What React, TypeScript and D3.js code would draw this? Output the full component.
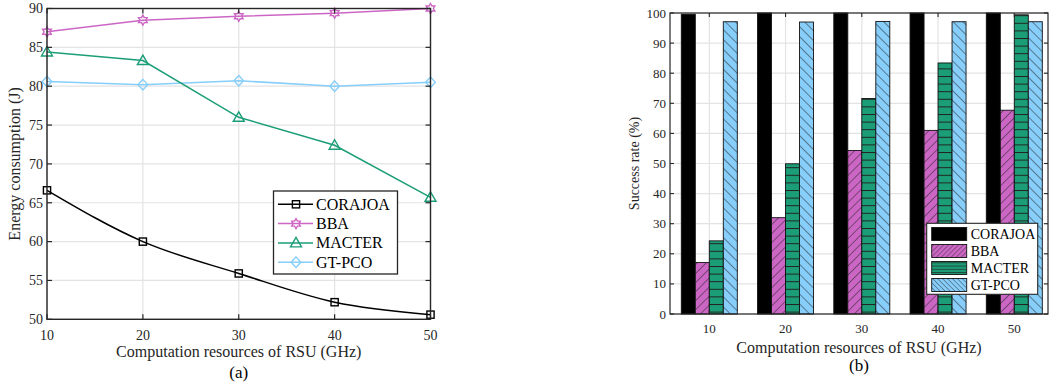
import React from "react";
import * as d3 from "d3";

const xValues = [10, 20, 30, 40, 50];
const seriesNames = ["CORAJOA", "BBA", "MACTER", "GT-PCO"];

// (a) energy consumption (J)
const energyCORAJOA = [66.6, 60.0, 55.9, 52.2, 50.6];
const energyBBA = [87.0, 88.5, 89.0, 89.4, 90.0];
const energyMACTER = [84.4, 83.3, 76.0, 72.4, 65.7];
const energyGTPCO = [80.6, 80.2, 80.7, 80.0, 80.5];

// (b) success rate (%)
const successCORAJOA = [99.6, 100, 100, 100, 100];
const successBBA = [17.1, 32.0, 54.3, 61.0, 67.7];
const successMACTER = [24.3, 49.9, 71.6, 83.4, 99.4];
const successGTPCO = [97.1, 97.0, 97.2, 97.1, 97.1];

const energyTicks = [50, 55, 60, 65, 70, 75, 80, 85, 90];
const successTicks = [0, 10, 20, 30, 40, 50, 60, 70, 80, 90, 100];

const FONT = "'Liberation Serif', 'Times New Roman', serif";
const AX = "#262626";
const GRID = "#e3e3e3";
const C_BLACK = "#000000";
const C_BBA = "#cc66c4";
const C_MAC = "#1b9e77";
const C_GT = "#87cefa";

function hexagram(r: number) {
  const pts: [number, number][] = [];
  for (let k = 0; k < 12; k++) {
    const a = (-90 + k * 30) * Math.PI / 180;
    const rr = k % 2 === 0 ? r : r / Math.sqrt(3);
    pts.push([rr * Math.cos(a), rr * Math.sin(a)]);
  }
  return "M" + pts.map(p => p[0].toFixed(2) + "," + p[1].toFixed(2)).join("L") + "Z";
}

function Marker({ kind, x, y, color }: { kind: number; x: number; y: number; color: string }) {
  const sw = 1.4;
  if (kind === 0) return <rect x={x - 3.6} y={y - 3.6} width={7.2} height={7.2} fill="none" stroke={color} strokeWidth={sw} />;
  if (kind === 1) return <path d={hexagram(5)} transform={`translate(${x},${y})`} fill="none" stroke={color} strokeWidth={sw} />;
  if (kind === 2) return <path d={`M${x},${y - 5.5}L${x + 5.5},${y + 4}L${x - 5.5},${y + 4}Z`} fill="none" stroke={color} strokeWidth={sw} />;
  return <path d={`M${x},${y - 5.3}L${x + 4.8},${y}L${x},${y + 5.3}L${x - 4.8},${y}Z`} fill="none" stroke={color} strokeWidth={sw} />;
}

function LeftChart() {
  const L = 47, R = 430.5, T = 8.5, B = 319.3;
  const x = d3.scaleLinear().domain([10, 50]).range([L, R]);
  const y = d3.scaleLinear().domain([50, 90]).range([B, T]);
  const data = [energyCORAJOA, energyBBA, energyMACTER, energyGTPCO];
  const colors = [C_BLACK, C_BBA, C_MAC, C_GT];
  const straight = d3.line<number>().x((_, i) => x(xValues[i])).y(d => y(d));
  const curved = d3.line<number>().x((_, i) => x(xValues[i])).y(d => y(d)).curve(d3.curveMonotoneX);
  const order = [3, 2, 1, 0];
  const tk = 5;
  return (
    <g>
      {xValues.map(v => <line key={"gx" + v} x1={x(v)} x2={x(v)} y1={T} y2={B} stroke={GRID} strokeWidth={1.2} />)}
      {energyTicks.map(v => <line key={"gy" + v} x1={L} x2={R} y1={y(v)} y2={y(v)} stroke={GRID} strokeWidth={1.2} />)}
      {order.map(s => (
        <g key={"s" + s}>
          <path d={(s === 0 ? curved : straight)(data[s]) || ""} fill="none" stroke={colors[s]} strokeWidth={1.5} />
          {data[s].map((v, i) => <Marker key={i} kind={s} x={x(xValues[i])} y={y(v)} color={colors[s]} />)}
        </g>
      ))}
      <rect x={L} y={T} width={R - L} height={B - T} fill="none" stroke={AX} strokeWidth={1.4} />
      {xValues.map(v => (
        <g key={"tx" + v}>
          <line x1={x(v)} x2={x(v)} y1={B} y2={B - tk} stroke={AX} strokeWidth={1.2} />
          <line x1={x(v)} x2={x(v)} y1={T} y2={T + tk} stroke={AX} strokeWidth={1.2} />
          <text x={x(v)} y={340} textAnchor="middle" fontSize={14} fontFamily={FONT} fill={AX}>{v}</text>
        </g>
      ))}
      {energyTicks.map(v => (
        <g key={"ty" + v}>
          <line x1={L} x2={L + tk} y1={y(v)} y2={y(v)} stroke={AX} strokeWidth={1.2} />
          <line x1={R} x2={R - tk} y1={y(v)} y2={y(v)} stroke={AX} strokeWidth={1.2} />
          <text x={43} y={y(v) + 4.8} textAnchor="end" fontSize={14} fontFamily={FONT} fill={AX}>{v}</text>
        </g>
      ))}
      <text x={(L + R) / 2} y={357} textAnchor="middle" fontSize={16} fontFamily={FONT} fill={AX}>Computation resources of RSU (GHz)</text>
      <text x={(L + R) / 2} y={378} textAnchor="middle" fontSize={17} fontFamily={FONT} fill="#000">(a)</text>
      <text transform={`translate(20,${(T + B) / 2}) rotate(-90)`} textAnchor="middle" fontSize={16} fontFamily={FONT} fill={AX}>Energy consumption (J)</text>
      <g>
        <rect x={273.5} y={191} width={124} height={83} fill="#fff" stroke={AX} strokeWidth={1.3} />
        {seriesNames.map((n, i) => {
          const yy = 204.3 + i * 19.3;
          return (
            <g key={n}>
              <line x1={278} x2={313} y1={yy} y2={yy} stroke={colors[i]} strokeWidth={1.5} />
              <Marker kind={i} x={296} y={yy} color={colors[i]} />
              <text x={316} y={yy + 5.5} fontSize={16} fontFamily={FONT} fill="#000">{n}</text>
            </g>
          );
        })}
      </g>
    </g>
  );
}

function RightChart() {
  const L = 670, R = 1048, T = 13, B = 314;
  const x = d3.scaleLinear().domain([1, 5]).range([709.3, 1014.3]);
  const y = d3.scaleLinear().domain([0, 100]).range([B, T]);
  const data = [successCORAJOA, successBBA, successMACTER, successGTPCO];
  const fills = [C_BLACK, "url(#hBBA)", "url(#hMAC)", "url(#hGT)"];
  const legFills = [C_BLACK, "url(#lBBA)", "url(#lMAC)", "url(#lGT)"];
  const bw = 14;
  const tk = 4;
  return (
    <g>
      {xValues.map((v, i) => <line key={"gx" + v} x1={x(i + 1)} x2={x(i + 1)} y1={T} y2={B} stroke={GRID} strokeWidth={1.2} />)}
      {successTicks.map(v => <line key={"gy" + v} x1={L} x2={R} y1={y(v)} y2={y(v)} stroke={GRID} strokeWidth={1.2} />)}
      {data.map((vals, s) => vals.map((v, i) => {
        const x0 = x(i + 1) - 2 * bw + s * bw;
        return <rect key={s + "-" + i} x={x0} y={y(v)} width={bw} height={y(0) - y(v)} fill={fills[s]} stroke="#111" strokeWidth={0.9} />;
      }))}
      <rect x={L} y={T} width={R - L} height={B - T} fill="none" stroke={AX} strokeWidth={1.2} />
      {xValues.map((v, i) => (
        <g key={"tx" + v}>
          <line x1={x(i + 1)} x2={x(i + 1)} y1={B} y2={B - tk} stroke={AX} strokeWidth={1.1} />
          <line x1={x(i + 1)} x2={x(i + 1)} y1={T} y2={T + tk} stroke={AX} strokeWidth={1.1} />
          <text x={x(i + 1)} y={333} textAnchor="middle" fontSize={13} fontFamily={FONT} fill={AX}>{v}</text>
        </g>
      ))}
      {successTicks.map(v => (
        <g key={"ty" + v}>
          <line x1={L} x2={L + tk} y1={y(v)} y2={y(v)} stroke={AX} strokeWidth={1.1} />
          <line x1={R} x2={R - tk} y1={y(v)} y2={y(v)} stroke={AX} strokeWidth={1.1} />
          <text x={666} y={y(v) + 4.5} textAnchor="end" fontSize={13} fontFamily={FONT} fill={AX}>{v}</text>
        </g>
      ))}
      <text x={(L + R) / 2} y={353} textAnchor="middle" fontSize={16} fontFamily={FONT} fill={AX}>Computation resources of RSU (GHz)</text>
      <text x={(L + R) / 2} y={371} textAnchor="middle" fontSize={17} fontFamily={FONT} fill="#000">(b)</text>
      <text transform={`translate(639,${(T + B) / 2}) rotate(-90)`} textAnchor="middle" fontSize={14} fontFamily={FONT} fill={AX}>Success rate (%)</text>
      <g>
        <rect x={926.7} y={223.3} width={111} height={71} fill="#fff" stroke={AX} strokeWidth={1.1} />
        {seriesNames.map((n, i) => {
          const yy = 234 + i * 17;
          return (
            <g key={n}>
              <rect x={931.7} y={yy - 6.5} width={35} height={13} fill={legFills[i]} stroke="#111" strokeWidth={0.9} />
              <text x={970.7} y={yy + 5} fontSize={14} fontFamily={FONT} fill="#000">{n}</text>
            </g>
          );
        })}
      </g>
    </g>
  );
}

export default function App() {
  return (
    <svg width={1051} height={383} style={{ position: "absolute", left: 0, top: 0, background: "#fff" }}>
      <defs>
        <pattern id="hBBA" patternUnits="userSpaceOnUse" width={6.4} height={6.4} patternTransform="rotate(45)">
          <rect width={6.4} height={6.4} fill={C_BBA} />
          <line x1={0} y1={0} x2={0} y2={6.4} stroke="#222" strokeWidth={1} />
        </pattern>
        <pattern id="hMAC" patternUnits="userSpaceOnUse" width={8} height={7.6}>
          <rect width={8} height={7.6} fill={C_MAC} />
          <line x1={0} y1={0.5} x2={8} y2={0.5} stroke="#222" strokeWidth={1} />
        </pattern>
        <pattern id="hGT" patternUnits="userSpaceOnUse" width={7} height={7} patternTransform="rotate(-45)">
          <rect width={7} height={7} fill={C_GT} />
          <line x1={0} y1={0} x2={0} y2={7} stroke="#222" strokeWidth={1} />
        </pattern>
        <pattern id="lBBA" patternUnits="userSpaceOnUse" width={3.5} height={3.5} patternTransform="rotate(45)">
          <rect width={3.5} height={3.5} fill={C_BBA} />
          <line x1={0} y1={0} x2={0} y2={3.5} stroke="#222" strokeWidth={0.8} />
        </pattern>
        <pattern id="lMAC" patternUnits="userSpaceOnUse" width={4} height={3.2}>
          <rect width={4} height={3.2} fill={C_MAC} />
          <line x1={0} y1={0.5} x2={4} y2={0.5} stroke="#222" strokeWidth={0.8} />
        </pattern>
        <pattern id="lGT" patternUnits="userSpaceOnUse" width={3.5} height={3.5} patternTransform="rotate(-45)">
          <rect width={3.5} height={3.5} fill={C_GT} />
          <line x1={0} y1={0} x2={0} y2={3.5} stroke="#222" strokeWidth={0.8} />
        </pattern>
      </defs>
      <LeftChart />
      <RightChart />
    </svg>
  );
}
